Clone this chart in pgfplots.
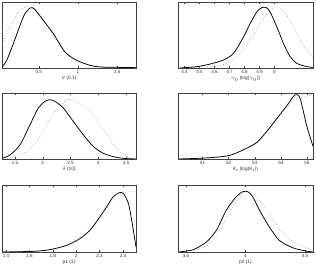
\documentclass[border=0pt]{standalone}
\usepackage{fontspec}
\setmainfont{Liberation Sans}
\usepackage{pgfplots}
\pgfplotsset{compat=1.18}
\pgfplotsset{
  panel/.style={
    scale only axis,
    ymin=0, ymax=1, ytick=\empty,
    xtick pos=both, tick align=inside,
    major tick length=2pt,
    axis line style={line width=0.5pt, black!75},
    every tick/.style={black!75, line width=0.4pt},
    /pgf/number format/assume math mode=true,
    xticklabel style={font=\fontsize{4.6}{5}\selectfont, inner sep=0pt, text=black!80, anchor=north, yshift=-2.5pt},
    every axis x label/.style={at={(axis description cs:0.5,0)}, anchor=north, yshift=-8pt, font=\fontsize{4.8}{5}\selectfont, inner sep=0pt, text=black!80},
  },
  sol/.style={black, line width=0.75pt, smooth, tension=0.45, no marks},
  dot/.style={gray!75, line width=0.7pt, dotted, smooth, tension=0.45, no marks},
}
\begin{document}
\begin{tikzpicture}[x=1pt,y=1pt]
\path[use as bounding box] (0,0) rectangle (316,267);

% Panel 1: theta
\begin{axis}[panel, at={(2pt,199pt)}, anchor=south west, width=134pt, height=66pt,
  xmin=0.03, xmax=1.74, xtick={0.5,1,1.5}, xlabel={$\theta$ (0.1)}]
\addplot[dot] coordinates {(0.03,0.369)(0.090,0.520)(0.175,0.722)(0.260,0.874)(0.323,0.924)(0.387,0.934)(0.451,0.899)(0.557,0.732)(0.685,0.495)(0.812,0.268)(0.940,0.141)(1.110,0.056)(1.281,0.025)(1.50,0.010)(1.74,0.005)};
\addplot[sol] coordinates {(0.03,0.015)(0.090,0.116)(0.175,0.369)(0.260,0.646)(0.323,0.823)(0.396,0.914)(0.451,0.884)(0.557,0.722)(0.685,0.520)(0.834,0.242)(0.983,0.116)(1.153,0.040)(1.281,0.015)(1.493,0.010)(1.74,0.005)};
\end{axis}

% Panel 2: gamma0
\begin{axis}[panel, at={(178pt,199pt)}, anchor=south west, width=135pt, height=66pt,
  xmin=4.357, xmax=5.257, xtick={4.4,4.5,4.6,4.7,4.8,4.9,5}, xlabel={$\gamma_0$ (log($\gamma_0$))}]
\addplot[dot] coordinates {(4.371,0)(4.571,0.020)(4.682,0.070)(4.771,0.221)(4.838,0.422)(4.905,0.673)(4.971,0.874)(5.016,0.915)(5.038,0.899)(5.082,0.799)(5.127,0.623)(5.171,0.422)(5.216,0.271)(5.257,0.15)};
\addplot[sol] coordinates {(4.371,0)(4.482,0.020)(4.571,0.060)(4.660,0.121)(4.727,0.221)(4.794,0.472)(4.838,0.673)(4.882,0.849)(4.916,0.915)(4.945,0.915)(4.971,0.849)(5.016,0.623)(5.060,0.372)(5.105,0.171)(5.149,0.070)(5.216,0.020)(5.257,0.010)};
\end{axis}

% Panel 3: delta
\begin{axis}[panel, at={(2pt,108pt)}, anchor=south west, width=134pt, height=66pt,
  xmin=1.266, xmax=3.68, xtick={1.5,2,2.5,3,3.5}, xlabel={$\delta$ (10)}]
\addplot[dot] coordinates {(1.266,0)(1.530,0.036)(1.710,0.112)(1.890,0.264)(2.071,0.518)(2.251,0.746)(2.371,0.848)(2.431,0.898)(2.521,0.898)(2.671,0.848)(2.851,0.721)(3.032,0.518)(3.212,0.289)(3.392,0.112)(3.572,0.020)(3.68,0)};
\addplot[sol] coordinates {(1.266,0.010)(1.410,0.061)(1.590,0.213)(1.770,0.518)(1.920,0.772)(2.041,0.873)(2.131,0.898)(2.221,0.873)(2.371,0.772)(2.551,0.569)(2.732,0.365)(2.912,0.188)(3.092,0.086)(3.272,0.036)(3.452,0.010)(3.68,0)};
\end{axis}

% Panel 4: Ks
\begin{axis}[panel, at={(178pt,108pt)}, anchor=south west, width=135pt, height=66pt,
  xmin=50.06, xmax=55.23, xtick={51,52,53,54,55}, xlabel={K$_\mathrm{s}$ (log(K$_\mathrm{s}$))}]
\addplot[dot] coordinates {(50.074,0)(50.904,0.011)(51.543,0.028)(52.054,0.056)(52.564,0.139)(53.075,0.25)(53.458,0.42)(53.842,0.60)(54.225,0.78)(54.480,0.88)(54.672,0.93)(54.991,0.95)(55.23,0.99)};
\addplot[sol] coordinates {(50.074,0)(50.904,0.011)(51.543,0.028)(52.054,0.056)(52.564,0.139)(53.075,0.25)(53.458,0.417)(53.842,0.611)(54.225,0.806)(54.544,0.972)(54.736,0.917)(54.991,0.5)(55.23,0.194)};
\end{axis}

% Panel 5: p1
\begin{axis}[panel, at={(2pt,15pt)}, anchor=south west, width=134pt, height=67pt,
  xmin=1.366, xmax=2.511, xtick={1.4,1.6,1.8,2,2.2,2.4}, xlabel={p1 (1)}]
\addplot[dot] coordinates {(1.366,0)(1.634,0.01)(1.776,0.035)(1.919,0.1)(2.032,0.2)(2.118,0.325)(2.203,0.525)(2.260,0.65)(2.317,0.785)(2.374,0.85)(2.431,0.895)(2.511,0.9)};
\addplot[sol] coordinates {(1.366,0)(1.634,0.01)(1.776,0.035)(1.919,0.1)(2.032,0.2)(2.118,0.325)(2.203,0.525)(2.260,0.675)(2.317,0.825)(2.369,0.885)(2.403,0.875)(2.446,0.725)(2.474,0.475)(2.511,0.075)};
\end{axis}

% Panel 6: p2
\begin{axis}[panel, at={(178pt,15pt)}, anchor=south west, width=135pt, height=67pt,
  xmin=3.433, xmax=4.567, xtick={3.5,4,4.5}, xlabel={p2 (1)}]
\addplot[dot] coordinates {(3.436,0)(3.589,0.035)(3.7,0.125)(3.783,0.325)(3.867,0.6)(3.95,0.825)(4.006,0.9)(4.047,0.885)(4.117,0.775)(4.2,0.575)(4.283,0.35)(4.367,0.2)(4.45,0.1)(4.567,0.025)};
\addplot[sol] coordinates {(3.436,0)(3.561,0.035)(3.672,0.15)(3.756,0.325)(3.839,0.625)(3.922,0.825)(3.978,0.9)(4.019,0.9)(4.061,0.825)(4.117,0.625)(4.2,0.375)(4.283,0.175)(4.394,0.065)(4.506,0.015)(4.567,0)};
\end{axis}
\end{tikzpicture}
\end{document}
